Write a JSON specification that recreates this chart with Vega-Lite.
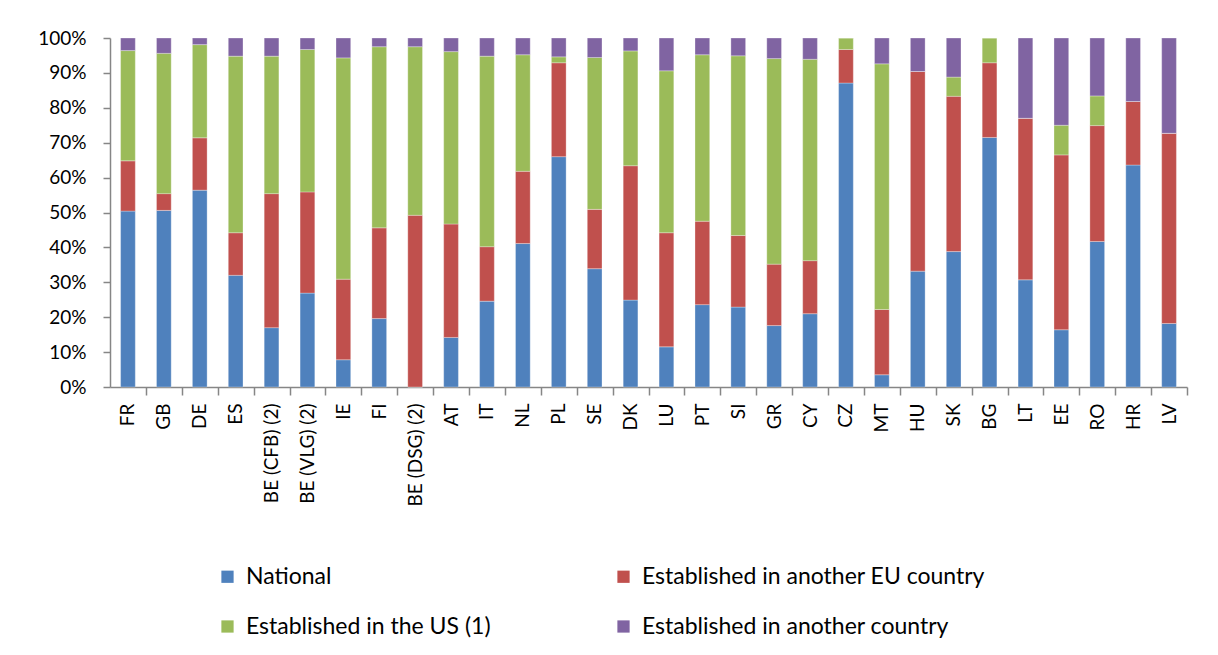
{
  "$schema": "https://vega.github.io/schema/vega-lite/v6.json",
  "width": 1077,
  "height": 349,
  "autosize": {"type": "none"},
  "padding": {"left": 110, "top": 38, "right": 31, "bottom": 268},
  "background": "white",
  "datasets": {
    "series": [
      {"name": "National", "idx": 0},
      {"name": "Established in another EU country", "idx": 1},
      {"name": "Established in the US (1)", "idx": 2},
      {"name": "Established in another country", "idx": 3}
    ]
  },
  "data": {
    "values": [
      {"country": "FR", "National": 50.4, "Established in another EU country": 14.4, "Established in the US (1)": 31.6, "Established in another country": 3.6},
      {"country": "GB", "National": 50.6, "Established in another EU country": 4.8, "Established in the US (1)": 40.2, "Established in another country": 4.4},
      {"country": "DE", "National": 56.4, "Established in another EU country": 15.0, "Established in the US (1)": 26.7, "Established in another country": 1.9},
      {"country": "ES", "National": 32.0, "Established in another EU country": 12.2, "Established in the US (1)": 50.6, "Established in another country": 5.2},
      {"country": "BE (CFB) (2)", "National": 17.0, "Established in another EU country": 38.4, "Established in the US (1)": 39.4, "Established in another country": 5.2},
      {"country": "BE (VLG) (2)", "National": 26.9, "Established in another EU country": 29.0, "Established in the US (1)": 40.8, "Established in another country": 3.3},
      {"country": "IE", "National": 7.8, "Established in another EU country": 23.1, "Established in the US (1)": 63.4, "Established in another country": 5.7},
      {"country": "FI", "National": 19.6, "Established in another EU country": 26.0, "Established in the US (1)": 51.9, "Established in another country": 2.5},
      {"country": "BE (DSG) (2)", "National": 0, "Established in another EU country": 49.2, "Established in the US (1)": 48.3, "Established in another country": 2.5},
      {"country": "AT", "National": 14.2, "Established in another EU country": 32.5, "Established in the US (1)": 49.4, "Established in another country": 3.9},
      {"country": "IT", "National": 24.6, "Established in another EU country": 15.6, "Established in the US (1)": 54.6, "Established in another country": 5.2},
      {"country": "NL", "National": 41.1, "Established in another EU country": 20.7, "Established in the US (1)": 33.4, "Established in another country": 4.8},
      {"country": "PL", "National": 66.0, "Established in another EU country": 26.9, "Established in the US (1)": 1.7, "Established in another country": 5.4},
      {"country": "SE", "National": 33.9, "Established in another EU country": 17.0, "Established in the US (1)": 43.5, "Established in another country": 5.6},
      {"country": "DK", "National": 24.9, "Established in another EU country": 38.5, "Established in the US (1)": 32.9, "Established in another country": 3.7},
      {"country": "LU", "National": 11.5, "Established in another EU country": 32.7, "Established in the US (1)": 46.4, "Established in another country": 9.4},
      {"country": "PT", "National": 23.6, "Established in another EU country": 23.9, "Established in the US (1)": 47.7, "Established in another country": 4.8},
      {"country": "SI", "National": 22.9, "Established in another EU country": 20.5, "Established in the US (1)": 51.5, "Established in another country": 5.1},
      {"country": "GR", "National": 17.6, "Established in another EU country": 17.6, "Established in the US (1)": 58.9, "Established in another country": 5.9},
      {"country": "CY", "National": 21.0, "Established in another EU country": 15.2, "Established in the US (1)": 57.7, "Established in another country": 6.1},
      {"country": "CZ", "National": 87.1, "Established in another EU country": 9.6, "Established in the US (1)": 3.3, "Established in another country": 0},
      {"country": "MT", "National": 3.5, "Established in another EU country": 18.7, "Established in the US (1)": 70.4, "Established in another country": 7.4},
      {"country": "HU", "National": 33.2, "Established in another EU country": 57.2, "Established in the US (1)": 0, "Established in another country": 9.6},
      {"country": "SK", "National": 38.8, "Established in another EU country": 44.5, "Established in the US (1)": 5.5, "Established in another country": 11.2},
      {"country": "BG", "National": 71.5, "Established in another EU country": 21.4, "Established in the US (1)": 7.1, "Established in another country": 0},
      {"country": "LT", "National": 30.7, "Established in another EU country": 46.3, "Established in the US (1)": 0, "Established in another country": 23.0},
      {"country": "EE", "National": 16.4, "Established in another EU country": 50.1, "Established in the US (1)": 8.5, "Established in another country": 25.0},
      {"country": "RO", "National": 41.7, "Established in another EU country": 33.2, "Established in the US (1)": 8.5, "Established in another country": 16.6},
      {"country": "HR", "National": 63.6, "Established in another EU country": 18.2, "Established in the US (1)": 0, "Established in another country": 18.2},
      {"country": "LV", "National": 18.2, "Established in another EU country": 54.5, "Established in the US (1)": 0, "Established in another country": 27.3}
    ]
  },
  "transform": [
    {"fold": ["National", "Established in another EU country", "Established in the US (1)", "Established in another country"], "as": ["series", "value"]},
    {"lookup": "series", "from": {"data": {"name": "series"}, "key": "name", "fields": ["idx"]}}
  ],
  "mark": {"type": "bar", "stroke": "white", "strokeWidth": 0.6, "strokeOpacity": 0.5},
  "encoding": {
    "x": {
      "field": "country",
      "type": "nominal",
      "sort": null,
      "scale": {"paddingInner": 0.59, "paddingOuter": 0.295},
      "axis": {
        "title": null,
        "labelAngle": -90,
        "labelFont": "Lato",
        "labelFontSize": 19,
        "labelColor": "#000000",
        "labelPadding": 8,
        "bandPosition": 1,
        "tickOffset": 10.6,
        "labelOffset": -10.6,
        "tickSize": 8,
        "tickColor": "#868686",
        "domainColor": "#868686",
        "tickWidth": 1.5,
        "domainWidth": 1.5
      }
    },
    "y": {
      "field": "value",
      "type": "quantitative",
      "stack": "zero",
      "scale": {"domain": [0, 100], "nice": false},
      "axis": {
        "title": null,
        "values": [0, 10, 20, 30, 40, 50, 60, 70, 80, 90, 100],
        "labelExpr": "datum.value + '%'",
        "labelFont": "Lato",
        "labelFontSize": 19,
        "labelColor": "#000000",
        "labelPadding": 17,
        "tickSize": 7,
        "tickColor": "#868686",
        "domainColor": "#868686",
        "tickWidth": 1.5,
        "domainWidth": 1.5,
        "grid": false
      }
    },
    "color": {
      "field": "series",
      "type": "nominal",
      "scale": {
        "domain": ["National", "Established in another EU country", "Established in the US (1)", "Established in another country"],
        "range": ["#4F81BD", "#C0504D", "#9BBB59", "#8064A2"]
      },
      "legend": {
        "title": null,
        "orient": "none",
        "direction": "horizontal",
        "legendX": 106,
        "legendY": 527,
        "columns": 2,
        "gridAlign": "each",
        "columnPadding": 121,
        "rowPadding": 26,
        "symbolType": "square",
        "symbolSize": 150,
        "symbolStrokeWidth": 0,
        "labelFont": "Lato",
        "labelFontSize": 23,
        "labelColor": "#000000",
        "labelOffset": 7,
        "labelLimit": 600
      }
    },
    "order": {"field": "idx", "type": "quantitative", "sort": "ascending"}
  },
  "config": {"view": {"stroke": null}}
}
